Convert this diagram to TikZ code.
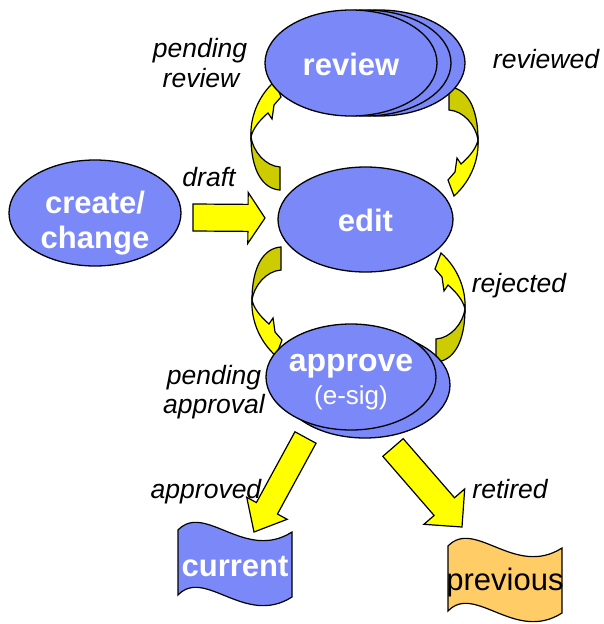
\documentclass[tikz,border=0pt]{standalone}
\usepackage{fontspec}
\setmainfont{Liberation Sans}
\usetikzlibrary{shapes.geometric,calc}

\definecolor{stateblue}{RGB}{122,137,247}
\definecolor{flowyellow}{RGB}{255,255,0}
\definecolor{flowolive}{RGB}{204,204,0}
\definecolor{docorange}{RGB}{255,204,102}

\tikzset{
  state/.style={ellipse, draw=black, line width=1.3pt, fill=stateblue,
    minimum width=172pt, minimum height=106pt, inner sep=0pt},
  statetext/.style={text=white, font=\fontsize{31}{35}\selectfont\bfseries,
    anchor=base, inner sep=0pt},
  flow/.style={draw=black, line width=1.2pt, fill=flowyellow, line join=miter},
  flowback/.style={draw=black, line width=1.2pt, fill=flowolive, line join=miter},
  doc/.style={draw=black, line width=1.2pt},
  lbl/.style={font=\fontsize{26.5}{30}\selectfont\itshape, anchor=base, inner sep=0pt},
}

% curved turn-around arrow: #1 pinch point, #2 xscale, #3 yscale
\newcommand\turnarrow[3]{%
  \begin{scope}[shift={#1}, xscale=#2, yscale=#3]
    \draw[flowback] (-29,53) .. controls (-12,52) and (0,34) .. (0,0)
      .. controls (-2,14) and (-14,29) .. (-29,30) -- cycle;
    \draw[flow] (0,0) .. controls (1,-18) and (-6,-40) .. (-24,-56)
      -- (-30,-40) -- (-23,-32) -- (-21,-18) -- (-17,-24)
      .. controls (-9,-17) and (-2,-9) .. (0,0) -- cycle;
  \end{scope}}

% straight block arrow: #1 start, #2 tip, #3 half shaft, #4 half head, #5 head length (pt)
\newcommand\blockarrow[5]{%
  \coordinate (ba) at ($(#2)!#5pt!(#1)$);
  \draw[flow] ($(#1)!#3pt!90:(#2)$) -- ($(ba)!#3pt!90:(#2)$) -- ($(ba)!#4pt!90:(#2)$)
    -- (#2) -- ($(ba)!#4pt!-90:(#2)$) -- ($(ba)!#3pt!-90:(#2)$)
    -- ($(#1)!#3pt!-90:(#2)$) -- cycle;}

\begin{document}
\begin{tikzpicture}[x=1pt, y=-1pt]
  \useasboundingbox (0,0) rectangle (603,624);

  % loops between the states
  \turnarrow{(251,137)}{-1}{1}
  \turnarrow{(478,140)}{1}{-1}
  \turnarrow{(252,300)}{-1}{-1}
  \turnarrow{(465,309)}{1}{1}

  % straight transitions
  \coordinate (draftS) at (193,217.5);
  \coordinate (draftT) at (265,218);
  \blockarrow{draftS}{draftT}{13.5}{25.5}{17}
  \coordinate (apprS) at (305.5,437.5);
  \coordinate (apprT) at (254,532);
  \blockarrow{apprS}{apprT}{12}{23}{27}
  \coordinate (retS) at (393,447.5);
  \coordinate (retT) at (462,527);
  \blockarrow{retS}{retT}{13.5}{27}{27}

  % states
  \node[state] (create) at (95,213) {};
  \node[state, minimum width=175pt, minimum height=105pt] (edit) at (365.5,219.5) {};
  \node[state] (review3) at (379,63) {};
  \node[state] (review2) at (365,63) {};
  \node[state] (review) at (351,63) {};
  \node[state, minimum width=170pt] (approve2) at (365,385) {};
  \node[state, minimum width=170pt] (approve) at (351,377) {};

  \node[statetext] at (351,75) {review};
  \node[statetext] at (365.5,231) {edit};
  \node[statetext] at (95,213) {create/};
  \node[statetext] at (95,248) {change};
  \node[statetext, font=\fontsize{32}{35}\selectfont\bfseries] at (351,371) {approve};
  \node[statetext, font=\fontsize{26}{30}\selectfont] at (351,404) {(e-sig)};

  % documents
  \draw[doc, fill=stateblue] (178,530) .. controls (205,502) and (245,562) .. (292,532)
    -- (292,597) .. controls (245,627) and (205,567) .. (178,595) -- cycle;
  \draw[doc, fill=docorange] (448,546) .. controls (475,518) and (515,578) .. (562,548)
    -- (562,613) .. controls (515,643) and (475,583) .. (448,611) -- cycle;
  \node[statetext] (current) at (235,576) {current};
  \node[anchor=base, inner sep=0pt, font=\fontsize{31}{35}\selectfont] (previous) at (505,590) {previous};

  % transition labels
  \node[lbl] at (200,57) {pending};
  \node[lbl] at (201,87) {review};
  \node[lbl] at (546,68) {reviewed};
  \node[lbl] at (209,186) {draft};
  \node[lbl] at (519,292) {rejected};
  \node[lbl] at (214,384) {pending};
  \node[lbl] at (214,413) {approval};
  \node[lbl] at (206,498) {approved};
  \node[lbl] at (510,498) {retired};
\end{tikzpicture}
\end{document}
